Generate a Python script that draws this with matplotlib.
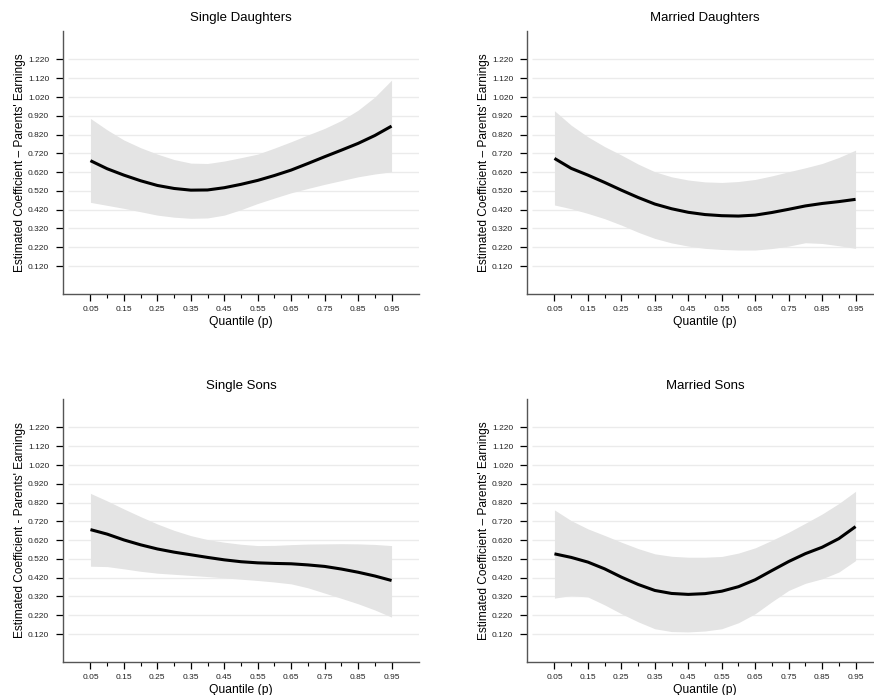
import numpy as np
import matplotlib
matplotlib.use("Agg")
import matplotlib.pyplot as plt
from matplotlib.ticker import FixedLocator

plt.rcParams['font.family'] = ['Liberation Sans', 'DejaVu Sans']

# quantiles at which the coefficients were estimated
quantiles = [0.05, 0.10, 0.15, 0.20, 0.25, 0.30, 0.35, 0.40, 0.45, 0.50,
             0.55, 0.60, 0.65, 0.70, 0.75, 0.80, 0.85, 0.90, 0.95]

titles = ["Single Daughters", "Married Daughters", "Single Sons", "Married Sons"]

single_daughters = [0.681, 0.638, 0.604, 0.574, 0.549, 0.533, 0.524, 0.525, 0.537, 0.555,
                    0.576, 0.602, 0.631, 0.666, 0.702, 0.737, 0.773, 0.815, 0.865]
single_daughters_hi = [0.906, 0.845, 0.791, 0.750, 0.716, 0.687, 0.668, 0.666, 0.679, 0.697,
                       0.716, 0.748, 0.782, 0.818, 0.853, 0.895, 0.950, 1.020, 1.110]
single_daughters_lo = [0.459, 0.443, 0.427, 0.409, 0.391, 0.380, 0.374, 0.376, 0.391, 0.420,
                       0.453, 0.482, 0.510, 0.533, 0.555, 0.575, 0.595, 0.610, 0.622]

married_daughters = [0.693, 0.640, 0.604, 0.565, 0.524, 0.485, 0.450, 0.425, 0.406, 0.394,
                     0.388, 0.386, 0.391, 0.405, 0.422, 0.440, 0.453, 0.463, 0.475]
married_daughters_hi = [0.947, 0.870, 0.808, 0.756, 0.711, 0.663, 0.622, 0.595, 0.578, 0.568,
                        0.565, 0.570, 0.581, 0.600, 0.622, 0.643, 0.666, 0.698, 0.737]
married_daughters_lo = [0.445, 0.425, 0.400, 0.372, 0.338, 0.300, 0.267, 0.243, 0.226, 0.214,
                        0.208, 0.205, 0.205, 0.213, 0.226, 0.244, 0.240, 0.228, 0.214]

single_sons = [0.676, 0.652, 0.621, 0.595, 0.573, 0.556, 0.542, 0.528, 0.515, 0.505,
               0.499, 0.496, 0.494, 0.488, 0.480, 0.466, 0.449, 0.429, 0.405]
single_sons_hi = [0.869, 0.829, 0.786, 0.745, 0.706, 0.672, 0.644, 0.623, 0.609, 0.598,
                  0.591, 0.592, 0.596, 0.599, 0.600, 0.601, 0.600, 0.597, 0.591]
single_sons_lo = [0.481, 0.479, 0.467, 0.454, 0.444, 0.438, 0.432, 0.426, 0.419, 0.412,
                  0.405, 0.397, 0.387, 0.366, 0.338, 0.310, 0.281, 0.248, 0.210]

married_sons = [0.547, 0.528, 0.503, 0.467, 0.423, 0.384, 0.352, 0.336, 0.331, 0.335,
                0.348, 0.372, 0.409, 0.458, 0.506, 0.548, 0.582, 0.628, 0.692]
married_sons_hi = [0.781, 0.724, 0.680, 0.645, 0.609, 0.575, 0.547, 0.534, 0.529, 0.529,
                   0.533, 0.551, 0.579, 0.619, 0.662, 0.710, 0.759, 0.815, 0.880]
married_sons_lo = [0.311, 0.325, 0.317, 0.275, 0.228, 0.185, 0.148, 0.133, 0.131, 0.136,
                   0.148, 0.180, 0.228, 0.292, 0.352, 0.390, 0.414, 0.450, 0.511]

ylabels = ["Estimated Coefficient \u2013 Parents' Earnings",
           "Estimated Coefficient \u2013 Parents' Earnings",
           "Estimated Coefficient - Parents' Earnings",
           "Estimated Coefficient \u2013 Parents' Earnings"]

series = [
    (single_daughters, single_daughters_lo, single_daughters_hi),
    (married_daughters, married_daughters_lo, married_daughters_hi),
    (single_sons, single_sons_lo, single_sons_hi),
    (married_sons, married_sons_lo, married_sons_hi),
]

xticks = [0.05, 0.15, 0.25, 0.35, 0.45, 0.55, 0.65, 0.75, 0.85, 0.95]
xminor = [0.10, 0.20, 0.30, 0.40, 0.50, 0.60, 0.70, 0.80, 0.90]
yticks = [0.12, 0.22, 0.32, 0.42, 0.52, 0.62, 0.72, 0.82, 0.92, 1.02, 1.12, 1.22]

fig = plt.figure(figsize=(8.74, 6.95), dpi=100)

# panel positions in figure fractions: left, bottom
positions = [(0.0721, 0.577), (0.603, 0.577), (0.0721, 0.0475), (0.603, 0.0475)]
w, h = 0.4073, 0.3785

spine_col = "#555555"
for pos, title, ylab, (mid, lo, hi) in zip(positions, titles, ylabels, series):
    ax = fig.add_axes([pos[0], pos[1], w, h])
    ax.set_xlim(-0.032, 1.032)
    ax.set_ylim(-0.029, 1.372)

    ax.hlines(yticks, -0.018, 1.032, color="#ebebeb", lw=1.0, zorder=0)
    ax.fill_between(quantiles, lo, hi, color="#e4e4e4", lw=0, zorder=1)
    ax.plot(quantiles, mid, color="black", lw=2.2, solid_capstyle="butt", zorder=2)

    ax.set_xticks(xticks)
    ax.set_xticklabels([f"{t:.2f}" for t in xticks])
    ax.xaxis.set_minor_locator(FixedLocator(xminor))
    ax.set_yticks(yticks)
    ax.set_yticklabels([f"{t:.3f}" for t in yticks])

    for s in ["top", "right"]:
        ax.spines[s].set_visible(False)
    for s in ["left", "bottom"]:
        ax.spines[s].set_color(spine_col)
        ax.spines[s].set_linewidth(1.0)

    ax.tick_params(axis="both", which="major", labelsize=6, color="black",
                   width=0.9, length=5, pad=4, labelcolor="#222222")
    ax.tick_params(axis="x", which="minor", length=3, width=0.8, color="black")
    ax.tick_params(axis="y", which="major", pad=5)

    ax.set_title(title, fontsize=9.5, pad=7)
    ax.set_xlabel("Quantile (p)", fontsize=8.7, labelpad=2)
    ax.set_ylabel(ylab, fontsize=8.6, labelpad=1)

fig.savefig("out.png", dpi=100)
